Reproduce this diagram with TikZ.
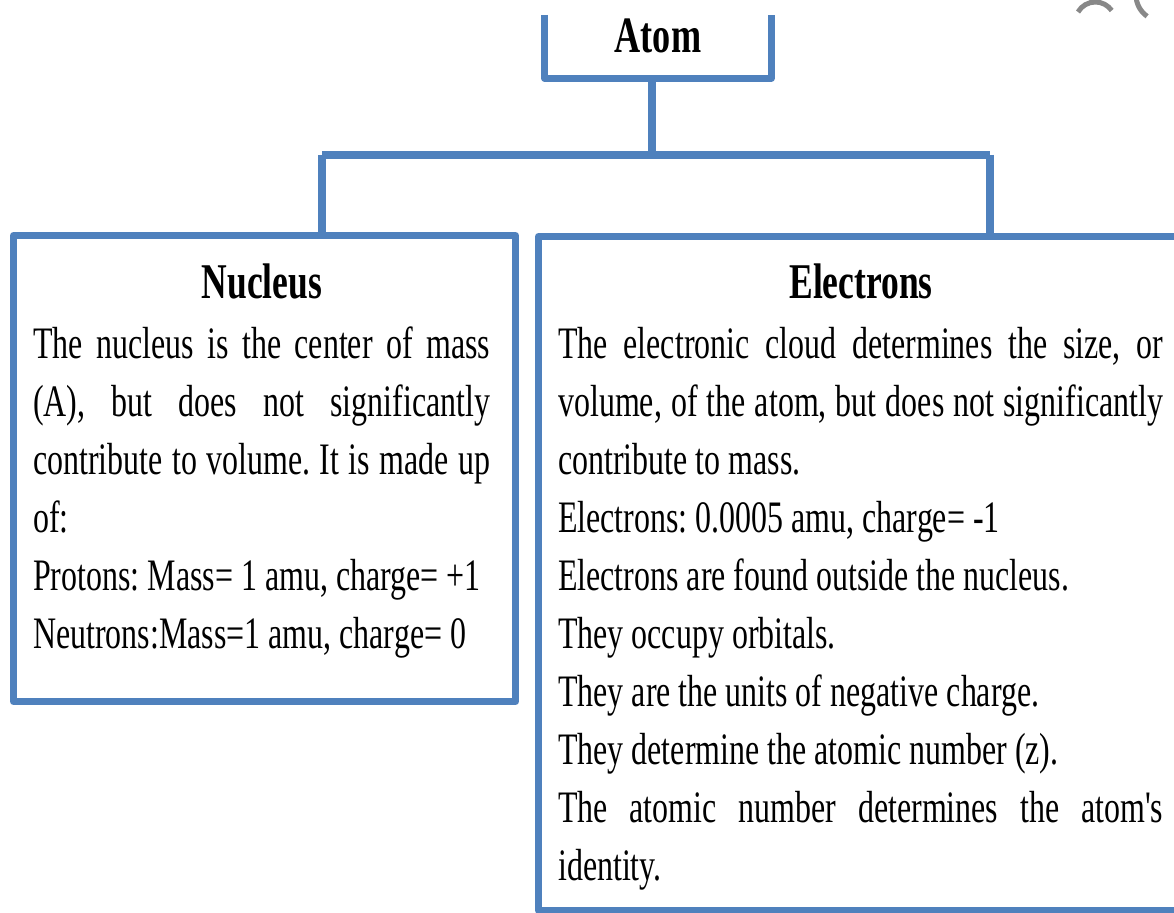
\documentclass[tikz,border=0pt]{standalone}
\usepackage{fontspec}
\setmainfont{Liberation Serif}[FakeStretch=0.71, Ligatures=TeXOff]
\definecolor{officeblue}{RGB}{79,129,189}
\definecolor{arcgray}{RGB}{136,136,136}
\tikzset{
  frame/.style={draw=officeblue, line width=7pt, line join=round},
  conn/.style={draw=officeblue, line width=8pt},
  boxshape/.style={frame, rectangle, inner sep=0pt, anchor=north west},
  heading/.style={inner sep=0pt, anchor=base, font=\fontsize{50}{58}\selectfont\bfseries},
  bodytext/.style={inner sep=0pt, anchor=base west, font=\fontsize{45}{58}\selectfont},
  decoarc/.style={draw=arcgray, line width=5pt}
}
\newcommand{\jline}[1]{\makebox[\linewidth][s]{#1}\par}
\frenchspacing
\begin{document}
\begin{tikzpicture}[x=1pt,y=-1pt]
\useasboundingbox (0,0) rectangle (1174,912);
\clip (0,0) rectangle (1174,912);
\fill[white] (0,0) rectangle (1174,912);

% Atom box (open at the top)
\node[inner sep=0pt, text height=38pt, text depth=25pt, minimum width=226pt, anchor=base,
      font=\fontsize{51}{58}\selectfont\bfseries] (atom) at (658,53) {Atom};
\draw[frame] (atom.north west) -- (atom.south west) -- (atom.south east) -- (atom.north east);

% Boxes
\node[boxshape, minimum width=502pt, minimum height=466pt] (nuc) at (10,232) {};
\node[boxshape, minimum width=660pt, minimum height=674pt] (ele) at (535,233) {};

% Connectors
\coordinate (bar) at (652,155);
\coordinate (bl) at (322,155);
\coordinate (br) at (990,155);
\draw[conn] (atom.south -| bar) -- (bar);
\draw[conn] (bl) -- (br);
\draw[conn] (bl) -- (bl |- nuc.north);
\draw[conn] (br) -- (br |- ele.north);

% Headings
\node[heading] (nuchead) at (262,298) {Nucleus};
\node[heading] (elehead) at (861,298) {Electrons};

% Body texts
\node[bodytext] (nuctext) at (33,358) {\parbox[t]{457pt}{\fontsize{45}{58}\selectfont\parindent=0pt\raggedright
\jline{The nucleus is the center of mass}
\jline{(A), but does not significantly}
\jline{contribute to volume. It is made up}
of:\par
Protons: Mass= 1 amu, charge= +1\par
Neutrons:Mass=1 amu, charge= 0\par}};

\node[bodytext] (eletext) at (558,358) {\parbox[t]{605pt}{\fontsize{45}{58}\selectfont\parindent=0pt\raggedright
\jline{The electronic cloud determines the size, or}
\jline{volume, of the atom, but does not significantly}
contribute to mass.\par
Electrons: 0.0005 amu, charge= -1\par
Electrons are found outside the nucleus.\par
They occupy orbitals.\par
They are the units of negative charge.\par
They determine the atomic number (z).\par
\jline{The atomic number determines the atom's}
identity.\par}};

% Partial gray arcs at top right
\draw[decoarc] (1078,12) arc[start angle=-150, end angle=-35, radius=20];
\draw[decoarc] (1136,-5) arc[start angle=180, end angle=125, radius=26];
\end{tikzpicture}
\end{document}
